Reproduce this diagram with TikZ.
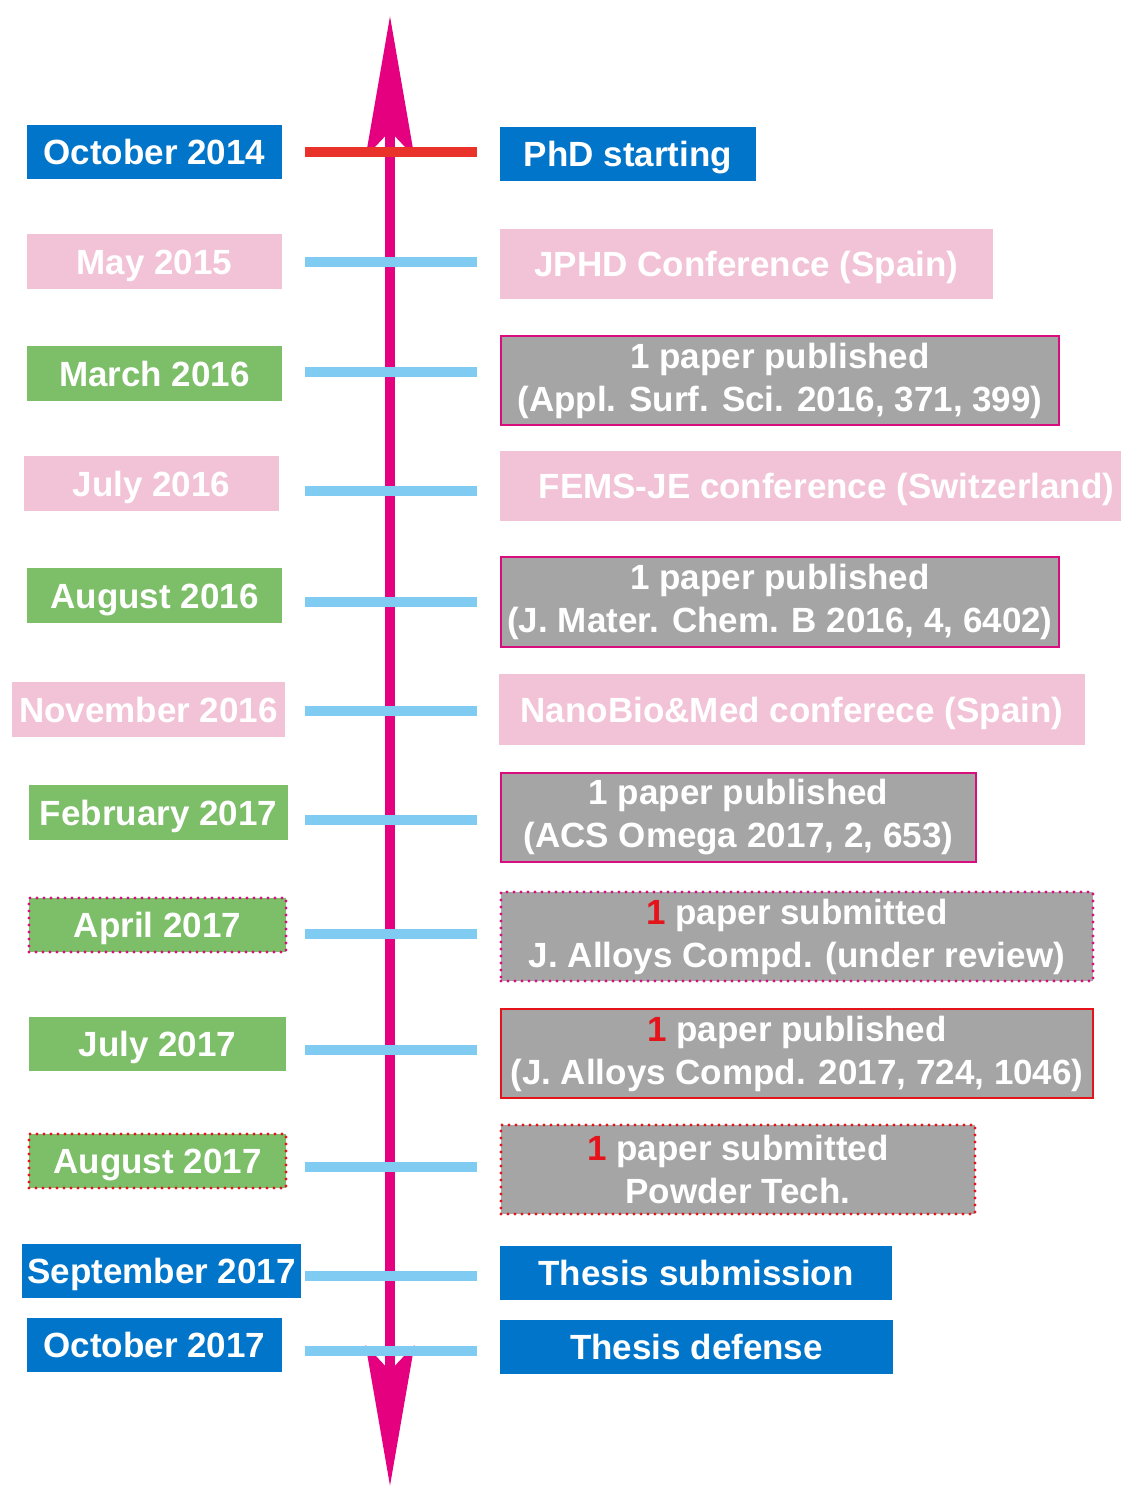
\documentclass[tikz,border=0pt]{standalone}
\usepackage{fontspec}
\setmainfont{Liberation Sans}
\usetikzlibrary{arrows.meta}
\definecolor{dateblue}{HTML}{0075C9}
\definecolor{datepink}{HTML}{F2C3D7}
\definecolor{dategreen}{HTML}{7DBE69}
\definecolor{papergray}{HTML}{A5A5A5}
\definecolor{axismag}{HTML}{E4007F}
\definecolor{ticksky}{HTML}{80CBF2}
\definecolor{tickred}{HTML}{E8322A}
\definecolor{edgemag}{HTML}{D80E7E}
\definecolor{edgered}{HTML}{E5141B}
\newcommand{\rone}{\textcolor{edgered}{1}}

\begin{document}
\begin{tikzpicture}[x=0.5pt,y=-0.5pt,
		box/.style={inner sep=0pt, text=white, align=center,
			font=\bfseries\fontsize{17.5}{21.5}\selectfont},
		oneline/.style={text height=12.6pt, text depth=0pt},
		boxsize/.style 2 args={minimum width=#1*0.5pt, minimum height=#2*0.5pt},
		bluebox/.style={box, oneline, fill=dateblue},
		pinkbox/.style={box, oneline, fill=datepink},
		greenbox/.style={box, oneline, fill=dategreen},
		graybox/.style={box, fill=papergray, draw=edgemag, line width=1pt},
		dotbox/.style={line width=1.7pt, dash pattern=on 0pt off 3.5pt, line cap=round},
		tick/.style={line width=5pt, draw=ticksky},
		axis/.style={line width=5pt, draw=axismag,
			{Stealth[length=70pt, width=24pt, inset=12.5pt, fill=axismag]}-{Stealth[length=70pt, width=24pt, inset=12.5pt, fill=axismag]}}]
		\useasboundingbox (0,0) rectangle (1121,1487);
		% time axis
		\coordinate (axtop) at (390,16);
		\coordinate (axbot) at (390,1486);
		\draw[axis] (axbot) -- (axtop);
		\draw[tick, draw=tickred] (305,152) -- (477,152);
		\foreach \ty in {262,372,491,602,711,820,934,1050,1167,1276,1351}{
			\draw[tick] (305,\ty) -- (477,\ty);
		}
		% dates
		\node[bluebox, boxsize={255}{54}] (d1) at (154.5,152) {October 2014};
		\node[pinkbox, boxsize={255}{55}] (d2) at (154.5,261.5) {May 2015};
		\node[greenbox, boxsize={255}{55}] (d3) at (154.5,373.5) {March 2016};
		\node[pinkbox, boxsize={255}{55}] (d4) at (151.5,483.5) {July 2016};
		\node[greenbox, boxsize={255}{55}] (d5) at (154.5,595.5) {August 2016};
		\node[pinkbox, boxsize={273}{55}] (d6) at (148.5,709.5) {November 2016};
		\node[greenbox, boxsize={259}{55}] (d7) at (158.5,812.5) {February 2017};
		\node[greenbox, dotbox, draw=edgemag, boxsize={257}{54}] (d8) at (157.5,925) {April 2017};
		\node[greenbox, boxsize={257}{54}] (d9) at (157.5,1044) {July 2017};
		\node[greenbox, dotbox, draw=edgered, boxsize={257}{54}] (d10) at (157.5,1161) {August 2017};
		\node[bluebox, boxsize={279}{54}] (d11) at (161.5,1271) {September 2017};
		\node[bluebox, boxsize={255}{54}] (d12) at (154.5,1345) {October 2017};
		% events
		\node[bluebox, boxsize={256}{54}] (e1) at (628,154) {PhD starting};
		\node[pinkbox, boxsize={493}{70}] (e2) at (746.5,264) {JPHD Conference (Spain)};
		\node[graybox, boxsize={558}{89}] (e3) at (780,380.5) {1 paper published\\(Appl. Surf. Sci. 2016, 371, 399)};
		\node[pinkbox, boxsize={621}{70}] (e4) at (810.5,486) {\hspace*{16pt}FEMS-JE conference (Switzerland)};
		\node[graybox, boxsize={558}{90}] (e5) at (780,602) {1 paper published\\(J. Mater. Chem. B 2016, 4, 6402)};
		\node[pinkbox, boxsize={586}{71}] (e6) at (792,709.5) {NanoBio\&Med conferece (Spain)};
		\node[graybox, boxsize={475}{89}] (e7) at (738.5,817.5) {1 paper published\\(ACS Omega 2017, 2, 653)};
		\node[graybox, dotbox, boxsize={592}{89}] (e8) at (797,936.5) {\rone{} paper submitted\\J. Alloys Compd. (under review)};
		\node[graybox, draw=edgered, boxsize={592}{89}] (e9) at (797,1053.5) {\rone{} paper published\\(J. Alloys Compd. 2017, 724, 1046)};
		\node[graybox, dotbox, draw=edgered, boxsize={474}{89}] (e10) at (738,1169.5) {\rone{} paper submitted\\Powder Tech.};
		\node[bluebox, boxsize={392}{54}] (e11) at (696,1273) {Thesis submission};
		\node[bluebox, boxsize={393}{54}] (e12) at (696.5,1347) {Thesis defense};
	\end{tikzpicture}
\end{document}
